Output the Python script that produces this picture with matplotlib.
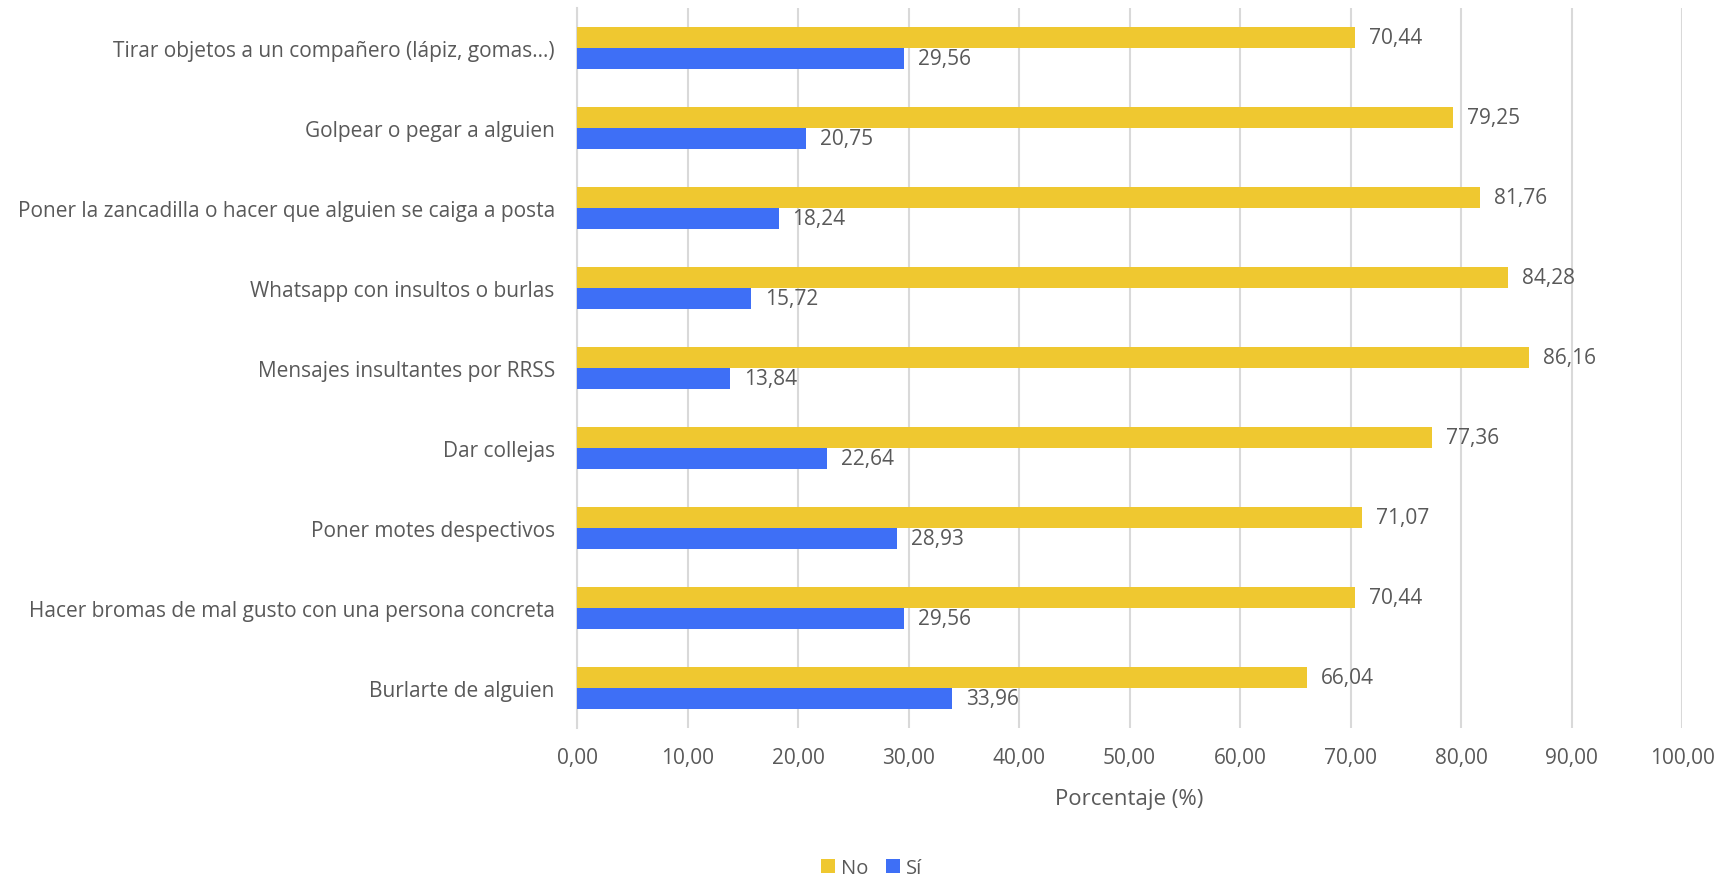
import matplotlib.pyplot as plt
import numpy as np

plt.rcParams['font.family'] = ['Open Sans', 'DejaVu Sans']

categories = [
    'Tirar objetos a un compañero (lápiz, gomas…)',
    'Golpear o pegar a alguien',
    'Poner la zancadilla o hacer que alguien se caiga a posta',
    'Whatsapp con insultos o burlas',
    'Mensajes insultantes por RRSS',
    'Dar collejas',
    'Poner motes despectivos',
    'Hacer bromas de mal gusto con una persona concreta',
    'Burlarte de alguien',
]
no_vals = [70.44, 79.25, 81.76, 84.28, 86.16, 77.36, 71.07, 70.44, 66.04]
si_vals = [29.56, 20.75, 18.24, 15.72, 13.84, 22.64, 28.93, 29.56, 33.96]

yellow = '#EFC830'
blue = '#3E6FF6'
text_color = '#595959'


def fmt(v):
    return f'{v:.2f}'.replace('.', ',')


fig = plt.figure(figsize=(17.26, 8.79), dpi=100)
ax = fig.add_axes([577 / 1726, 1 - 729 / 879, (1682 - 577) / 1726, 720 / 879])

y = np.arange(len(categories))
h = 0.265
bars_no = ax.barh(y - h / 2, no_vals, height=h, color=yellow, label='No', zorder=3)
bars_si = ax.barh(y + h / 2, si_vals, height=h, color=blue, label='Sí', zorder=3)

# value labels next to each bar
for bars in (bars_no, bars_si):
    for b in bars:
        v = b.get_width()
        ax.annotate(fmt(v), (v, b.get_y() + b.get_height() / 2),
                    xytext=(14, 0), textcoords='offset pixels',
                    va='center', ha='left', fontsize=15, color=text_color)

ax.set_ylim(len(categories) - 0.5, -0.5)
ax.set_xlim(0, 100)
ax.set_xticks(np.arange(0, 101, 10))
ax.set_xticklabels([fmt(t) for t in np.arange(0, 101, 10)])
ax.set_yticks(y)
ax.set_yticklabels(categories)
ax.tick_params(axis='both', length=0, labelsize=15, colors=text_color)
ax.tick_params(axis='y', pad=16)
ax.tick_params(axis='x', pad=14)
ax.grid(axis='x', color='#D9D9D9', linewidth=1.5, zorder=0)
for s in ['top', 'right', 'bottom']:
    ax.spines[s].set_visible(False)
ax.spines['left'].set_color('#D9D9D9')
ax.spines['left'].set_linewidth(1.5)

ax.set_xlabel('Porcentaje (%)', fontsize=16, color=text_color, labelpad=14)

fig.legend(handles=[bars_no, bars_si], labels=['No', 'Sí'], loc='center',
           bbox_to_anchor=(0.505, 1 - 869 / 879), ncol=2, frameon=False,
           fontsize=14.5, handlelength=0.7, handleheight=0.7, handletextpad=0.3,
           columnspacing=0.9, labelcolor=text_color)

fig.savefig('out.png', dpi=100)
